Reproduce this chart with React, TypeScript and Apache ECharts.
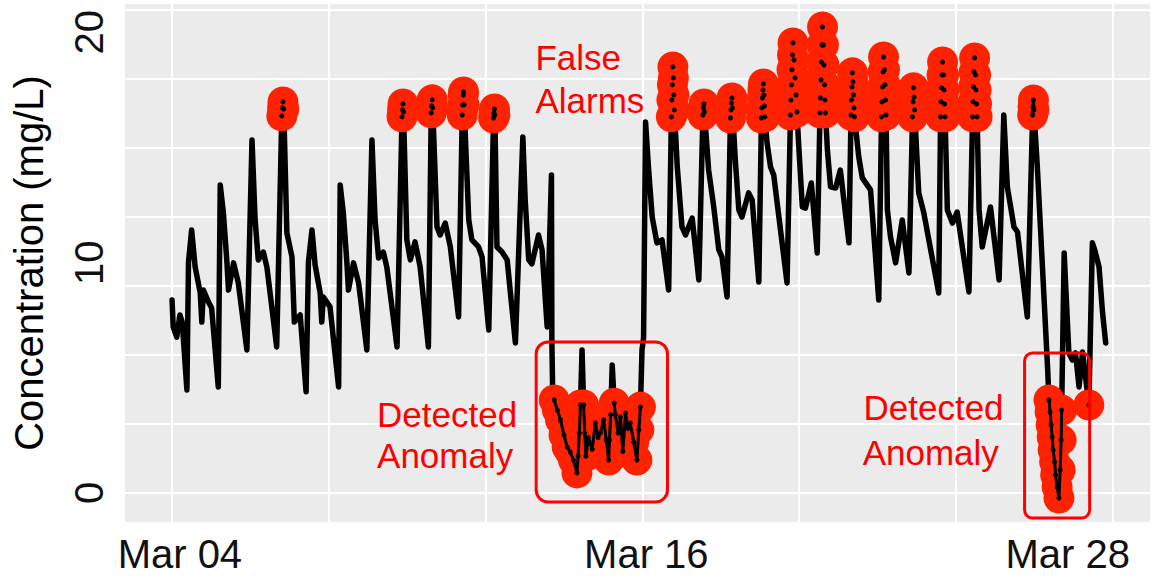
import React, { useEffect, useRef } from 'react';
import * as echarts from 'echarts';

const FONT = '"Liberation Sans", Arial, Helvetica, sans-serif';

// [day since Mar 04, concentration (mg/L), flagged as anomaly (1) or not (0)]
const readings: [number, number, number][] = [
  [0.00, 8.38, 0], [0.03, 7.21, 0], [0.12, 6.77, 0], [0.20, 7.73, 0], [0.26, 7.42, 0],
  [0.38, 4.47, 0], [0.42, 10.03, 0], [0.50, 11.42, 0], [0.59, 9.81, 0], [0.72, 8.68, 0],
  [0.76, 7.42, 0], [0.80, 8.81, 0], [0.93, 8.29, 0], [1.01, 8.03, 0], [1.18, 4.60, 0],
  [1.23, 13.37, 0], [1.31, 12.16, 0], [1.40, 10.03, 0], [1.44, 8.81, 0], [1.57, 9.99, 0],
  [1.69, 9.12, 0], [1.91, 6.21, 0], [2.04, 15.33, 0], [2.12, 11.85, 0], [2.20, 10.12, 0],
  [2.33, 10.46, 0], [2.42, 9.81, 0], [2.67, 6.34, 0],
  [2.80, 16.37, 1], [2.82, 16.72, 1], [2.83, 16.98, 1], [2.85, 16.67, 1],
  [2.93, 11.29, 0], [3.06, 10.25, 0], [3.12, 7.42, 0], [3.27, 7.73, 0], [3.42, 4.39, 0],
  [3.48, 10.03, 0], [3.57, 11.42, 0], [3.65, 9.90, 0], [3.78, 8.68, 0], [3.82, 7.42, 0],
  [3.86, 8.51, 0], [4.03, 8.08, 0], [4.25, 4.60, 0], [4.29, 13.37, 0], [4.37, 12.16, 0],
  [4.46, 10.03, 0], [4.50, 8.81, 0], [4.63, 9.99, 0], [4.76, 9.12, 0], [4.97, 6.21, 0],
  [5.10, 15.33, 0], [5.18, 11.85, 0], [5.27, 10.20, 0], [5.39, 10.46, 0], [5.48, 9.81, 0],
  [5.74, 6.34, 0],
  [5.867, 16.33, 1], [5.880, 16.63, 1], [5.892, 16.89, 1], [5.905, 16.54, 1],
  [5.99, 10.99, 0], [6.08, 10.12, 0], [6.20, 10.90, 0], [6.33, 9.81, 0], [6.54, 6.34, 0],
  [6.612, 16.50, 1], [6.625, 16.80, 1], [6.638, 17.07, 1], [6.651, 16.72, 1],
  [6.76, 11.55, 0], [6.84, 11.20, 0], [6.97, 11.72, 0], [7.10, 10.68, 0], [7.31, 7.64, 0],
  [7.404, 16.41, 1], [7.416, 16.85, 1], [7.429, 17.28, 1], [7.437, 17.41, 1], [7.450, 16.85, 1],
  [7.57, 11.85, 0], [7.65, 10.99, 0], [7.82, 10.68, 0], [7.91, 10.25, 0], [8.08, 7.08, 0],
  [8.203, 16.28, 1], [8.213, 16.50, 1], [8.226, 16.67, 1], [8.236, 16.41, 1],
  [8.29, 10.68, 0], [8.42, 10.46, 0], [8.55, 10.12, 0], [8.76, 6.51, 0], [8.95, 15.46, 0],
  [9.01, 12.72, 0], [9.10, 10.12, 0], [9.18, 9.95, 0], [9.35, 11.20, 0], [9.44, 10.55, 0],
  [9.57, 7.21, 0], [9.68, 13.81, 0], [9.69, 6.64, 0], [9.71, 4.47, 0],
  [9.75, 4.04, 1], [9.83, 3.60, 1], [9.91, 3.17, 1], [10.00, 2.52, 1], [10.08, 2.00, 1],
  [10.16, 1.78, 1], [10.24, 1.43, 1], [10.33, 0.87, 1], [10.36, 1.60, 1], [10.39, 2.60, 1],
  [10.42, 3.82, 1],
  [10.46, 6.21, 0],
  [10.50, 3.82, 1], [10.53, 2.60, 1], [10.56, 1.60, 1], [10.62, 2.40, 1], [10.67, 2.17, 1],
  [10.72, 1.90, 1], [10.80, 3.04, 1], [10.87, 2.40, 1], [10.93, 2.61, 1], [11.01, 3.17, 1],
  [11.08, 2.30, 1], [11.14, 1.43, 1], [11.16, 2.30, 1], [11.19, 3.40, 1],
  [11.23, 5.56, 0],
  [11.28, 3.90, 1], [11.31, 3.40, 1], [11.38, 2.60, 1], [11.44, 3.30, 1], [11.50, 1.80, 1],
  [11.57, 3.47, 1], [11.63, 2.80, 1], [11.69, 3.04, 1], [11.78, 2.20, 1], [11.86, 1.43, 1],
  [11.91, 2.74, 1], [11.95, 3.73, 1],
  [11.99, 6.21, 0], [12.03, 6.73, 0], [12.08, 16.11, 0], [12.16, 14.02, 0], [12.25, 11.98, 0],
  [12.37, 10.86, 0], [12.50, 10.99, 0], [12.67, 8.81, 0],
  [12.739, 16.33, 1], [12.752, 17.06, 1], [12.765, 17.72, 1], [12.778, 18.50, 1],
  [12.790, 18.02, 1], [12.803, 17.28, 1], [12.816, 16.63, 1],
  [12.89, 14.15, 0], [13.01, 11.55, 0], [13.10, 11.20, 0], [13.27, 11.94, 0], [13.44, 9.25, 0],
  [13.544, 16.41, 1], [13.557, 16.72, 1], [13.569, 16.89, 1], [13.582, 16.54, 1],
  [13.69, 14.02, 0], [13.82, 12.42, 0], [13.95, 10.55, 0], [14.03, 10.25, 0], [14.16, 8.51, 0],
  [14.246, 16.28, 1], [14.259, 16.63, 1], [14.271, 16.93, 1], [14.284, 17.15, 1], [14.297, 16.72, 1],
  [14.37, 14.46, 0], [14.46, 12.29, 0], [14.54, 11.98, 0], [14.71, 13.03, 0], [14.80, 12.72, 0],
  [14.97, 9.16, 0],
  [15.037, 16.28, 1], [15.050, 16.72, 1], [15.062, 17.15, 1], [15.075, 17.50, 1],
  [15.088, 17.76, 1], [15.101, 17.28, 1], [15.114, 16.80, 1], [15.126, 16.33, 1],
  [15.18, 15.20, 0], [15.27, 14.15, 0], [15.35, 13.81, 0], [15.69, 9.12, 0],
  [15.778, 16.41, 1], [15.791, 17.06, 1], [15.804, 17.72, 1], [15.816, 18.37, 1],
  [15.829, 19.02, 1], [15.842, 19.54, 1], [15.867, 18.80, 1], [15.893, 18.02, 1],
  [15.918, 17.28, 1], [15.944, 16.54, 1],
  [15.98, 15.33, 0], [16.08, 12.42, 0], [16.16, 12.37, 0], [16.31, 13.46, 0], [16.46, 10.42, 0],
  [16.531, 16.50, 1], [16.544, 17.15, 1], [16.557, 17.93, 1], [16.569, 18.71, 1],
  [16.582, 19.45, 1], [16.595, 20.23, 1], [16.620, 19.45, 1], [16.633, 18.58, 1],
  [16.646, 17.72, 1], [16.658, 17.06, 1], [16.671, 16.50, 1],
  [16.72, 14.89, 0], [16.80, 13.29, 0], [16.93, 13.24, 0], [17.05, 14.02, 0], [17.27, 10.86, 0],
  [17.322, 16.41, 1], [17.335, 17.06, 1], [17.348, 17.63, 1], [17.360, 18.24, 1],
  [17.373, 17.85, 1], [17.386, 17.28, 1], [17.399, 16.72, 1], [17.411, 16.33, 1],
  [17.52, 14.59, 0], [17.61, 13.68, 0], [17.82, 13.16, 0], [18.03, 8.38, 0],
  [18.101, 16.33, 1], [18.114, 16.98, 1], [18.127, 17.63, 1], [18.140, 18.28, 1],
  [18.152, 18.93, 1], [18.178, 18.37, 1], [18.191, 17.72, 1], [18.203, 17.06, 1], [18.216, 16.41, 1],
  [18.25, 12.29, 0], [18.33, 11.12, 0], [18.46, 9.99, 0], [18.63, 11.85, 0], [18.80, 9.55, 0],
  [18.892, 16.33, 1], [18.905, 16.98, 1], [18.917, 17.59, 1], [18.930, 17.19, 1], [18.943, 16.63, 1],
  [19.05, 13.03, 0], [19.18, 12.16, 0], [19.56, 8.68, 0],
  [19.607, 16.33, 1], [19.620, 16.98, 1], [19.633, 17.59, 1], [19.645, 18.15, 1],
  [19.658, 18.71, 1], [19.684, 18.15, 1], [19.696, 17.50, 1], [19.709, 16.89, 1], [19.722, 16.33, 1],
  [19.78, 12.29, 0], [19.91, 11.72, 0], [20.03, 12.20, 0], [20.33, 8.73, 0],
  [20.424, 16.33, 1], [20.437, 16.98, 1], [20.450, 17.63, 1], [20.462, 18.28, 1],
  [20.475, 18.89, 1], [20.501, 18.15, 1], [20.513, 17.50, 1], [20.526, 16.89, 1], [20.539, 16.33, 1],
  [20.59, 12.29, 0], [20.67, 10.68, 0], [20.88, 12.42, 0], [21.10, 9.25, 0], [21.22, 16.41, 0],
  [21.31, 13.29, 0], [21.48, 11.55, 0], [21.57, 11.33, 0], [21.82, 7.64, 0],
  [21.956, 16.41, 1], [21.966, 16.76, 1], [21.976, 17.06, 1], [21.989, 16.63, 1],
  [22.08, 14.02, 0], [22.24, 8.68, 0], [22.34, 5.34, 0],
  [22.372, 4.04, 1], [22.402, 3.52, 1], [22.428, 2.95, 1], [22.454, 2.43, 1], [22.479, 1.87, 1],
  [22.517, 1.35, 1], [22.543, 0.78, 1], [22.581, 0.26, 1], [22.627, -0.22, 1], [22.658, 1.00, 1],
  [22.683, 2.30, 1], [22.696, 3.60, 1],
  [22.76, 10.42, 0], [22.88, 6.08, 0], [22.97, 5.77, 0], [23.05, 6.08, 0], [23.14, 4.60, 0],
  [23.23, 6.12, 0],
  [23.39, 3.82, 1],
  [23.48, 10.86, 0], [23.54, 10.55, 0], [23.65, 9.81, 0], [23.74, 7.82, 0], [23.82, 6.51, 0],
];

// axis layout values (data units)
const xRange = [-1.2, 24.95];
const yRange = [-1.26, 21.23];
const xGridDays = [0, 4, 8, 12, 16, 20, 24];
const yGridValues = [0, 3, 6, 9, 12, 15, 18, 21];
const yTickValues = [0, 6, 12, 18];
const yTickLabels = [0, 10, 20];
const xTickLabels = ['Mar 04', 'Mar 16', 'Mar 28'];
const xTickLabelDays = [0.2, 12.1, 22.85];

// red annotations
const annotationTexts = [
  { text: 'False', day: 9.27, value: 18.91 },
  { text: 'Alarms', day: 9.27, value: 17.04 },
  { text: 'Detected', day: 5.23, value: 3.41 },
  { text: 'Anomaly', day: 5.23, value: 1.63 },
  { text: 'Detected', day: 17.64, value: 3.71 },
  { text: 'Anomaly', day: 17.62, value: 1.74 },
];
const anomalyBoxes = [
  { dayFrom: 9.29, dayTo: 12.64, valueFrom: -0.39, valueTo: 6.56, radius: 12 },
  { dayFrom: 21.75, dayTo: 23.41, valueFrom: -1.09, valueTo: 6.08, radius: 8 },
];

export default function App() {
  const ref = useRef<HTMLDivElement>(null);

  useEffect(() => {
    if (!ref.current) return;
    const chart = echarts.init(ref.current, null, { renderer: 'svg' });

    const linePoints = readings.map((r) => [r[0], r[1]]);
    const flagged = readings.filter((r) => r[2] === 1).map((r) => [r[0], r[1]]);

    // runs of flagged points lying inside the anomaly boxes (dense samples drawn above the red)
    const runs: number[][][] = [];
    let cur: number[][] = [];
    readings.forEach((r) => {
      const inBox = anomalyBoxes.some((b) => r[0] >= b.dayFrom && r[0] <= b.dayTo);
      if (r[2] === 1 && inBox) {
        cur.push([r[0], r[1]]);
      } else {
        if (cur.length > 1) runs.push(cur);
        cur = [];
      }
    });
    if (cur.length > 1) runs.push(cur);

    const overlaySeries = runs.map((run) => ({
      type: 'line',
      data: run,
      showSymbol: false,
      silent: true,
      z: 4,
      lineStyle: { color: '#000', width: 3, join: 'round', cap: 'round' },
    }));

    chart.setOption({
      animation: false,
      grid: {
        left: 125,
        right: 2,
        top: 4,
        bottom: 54,
        show: true,
        backgroundColor: '#EBEBEB',
        borderWidth: 0,
        containLabel: false,
        outerBoundsMode: 'none',
      },
      xAxis: {
        type: 'value',
        min: xRange[0],
        max: xRange[1],
        axisLine: { show: false },
        splitLine: { show: false },
        axisTick: { show: false },
        axisLabel: {
          customValues: xTickLabelDays,
          formatter: (v: number) => {
            let best = 0;
            xTickLabelDays.forEach((d, i) => {
              if (Math.abs(d - v) < Math.abs(xTickLabelDays[best] - v)) best = i;
            });
            return xTickLabels[best];
          },
          fontSize: 40,
          fontFamily: FONT,
          color: '#111',
          margin: 12,
          hideOverlap: false,
        },
      },
      yAxis: {
        type: 'value',
        min: yRange[0],
        max: yRange[1],
        axisLine: { show: false },
        splitLine: { show: false },
        axisTick: {
          show: true,
          customValues: yTickValues,
          length: 4,
          lineStyle: { color: '#444', width: 1.5 },
        },
        axisLabel: {
          customValues: yTickLabels,
          rotate: 90,
          fontSize: 40,
          fontFamily: FONT,
          color: '#111',
          margin: 16,
        },
        name: 'Concentration (mg/L)',
        nameLocation: 'middle',
        nameGap: 76,
        nameTextStyle: { fontSize: 40, fontFamily: FONT, color: '#000' },
      },
      series: [
        {
          type: 'line',
          data: linePoints,
          showSymbol: false,
          silent: true,
          z: 2,
          lineStyle: { color: '#000', width: 5.5, join: 'round', cap: 'round' },
          markLine: {
            silent: true,
            z: 1,
            symbol: ['none', 'none'],
            label: { show: false },
            lineStyle: { color: '#FFFFFF', width: 2, type: 'solid' },
            emphasis: { disabled: true },
            data: [
              ...xGridDays.map((d) => ({ xAxis: d })),
              ...yGridValues.map((v) => ({ yAxis: v })),
            ],
          },
        },
        {
          type: 'scatter',
          data: flagged,
          symbol: 'circle',
          symbolSize: 31,
          silent: true,
          z: 3,
          itemStyle: { color: '#FF2200', opacity: 1, borderWidth: 0, borderColor: 'transparent' },
        },
        ...overlaySeries,
        {
          type: 'scatter',
          data: flagged,
          symbol: 'circle',
          symbolSize: 5,
          silent: true,
          z: 5,
          itemStyle: { color: '#000', opacity: 1, borderWidth: 0 },
        },
      ],
    });

    const toPx = (d: number, v: number) =>
      chart.convertToPixel({ gridIndex: 0 }, [d, v]) as number[];

    const graphics: any[] = [];
    anomalyBoxes.forEach((b) => {
      const p0 = toPx(b.dayFrom, b.valueTo);
      const p1 = toPx(b.dayTo, b.valueFrom);
      graphics.push({
        type: 'rect',
        z: 10,
        silent: true,
        shape: { x: p0[0], y: p0[1], width: p1[0] - p0[0], height: p1[1] - p0[1], r: b.radius },
        style: { fill: 'none', stroke: '#FF0000', lineWidth: 3 },
      });
    });
    annotationTexts.forEach((a) => {
      const p = toPx(a.day, a.value);
      graphics.push({
        type: 'text',
        z: 10,
        silent: true,
        x: p[0],
        y: p[1],
        style: {
          text: a.text,
          fill: '#FF0000',
          fontSize: 35,
          fontFamily: FONT,
          align: 'left',
          verticalAlign: 'middle',
        },
      });
    });
    chart.setOption({ graphic: graphics });

    return () => chart.dispose();
  }, []);

  return (
    <div
      ref={ref}
      style={{ position: 'absolute', left: 0, top: 0, width: 1152, height: 576, background: '#fff' }}
    />
  );
}
